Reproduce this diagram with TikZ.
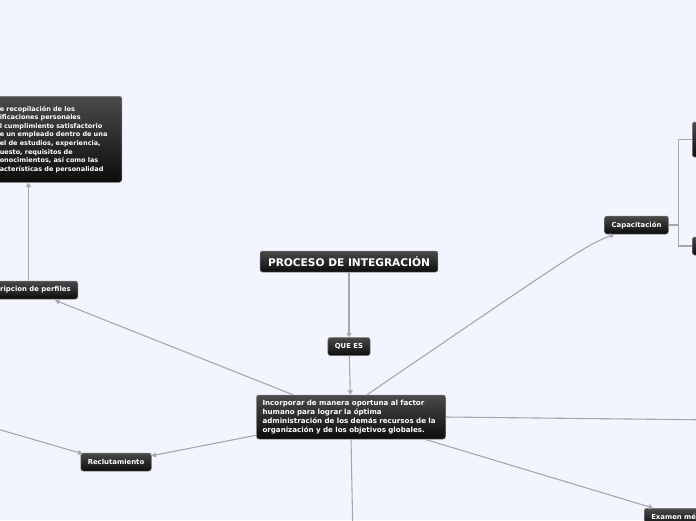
\documentclass[tikz,border=0pt]{standalone}
\usepackage{fontspec}
\setsansfont{DejaVu Sans}
\usepackage{tikz}
\usetikzlibrary{arrows.meta, positioning, calc}
\definecolor{mybg}{RGB}{242,245,255}
\definecolor{mytop}{RGB}{74,74,74}
\definecolor{mybot}{RGB}{12,12,12}
\definecolor{myline}{RGB}{168,168,172}
\definecolor{myedge}{RGB}{120,120,120}
\tikzset{
  line/.style={draw=myline, line width=1.1pt},
  arrow/.style={draw=myline, line width=1.1pt, -{Triangle[length=4.5pt,width=5pt]}},
  block/.style={draw=myedge, line width=0.5pt, top color=mytop, bottom color=mybot, rectangle, rounded corners=2.5pt, text=white, font=\sffamily\bfseries\fontsize{6.9}{8.5}\selectfont, minimum height=18pt, inner xsep=7pt, inner ysep=2pt},
  tblock/.style={block, align=left, inner xsep=6pt}
}
\begin{document}
\begin{tikzpicture}[x=1pt, y=-1pt]
  \fill[mybg] (0,0) rectangle (696,520);
  \useasboundingbox (0,0) rectangle (696,520);
  \clip (0,0) rectangle (696,520);

  \node [block, font=\sffamily\bfseries\fontsize{10.6}{12}\selectfont, minimum height=21pt, inner xsep=8pt] (title) at (349,261.5) {PROCESO DE INTEGRACIÓN};
  \node [block] (quees) at (349,346.5) {QUE ES};
  \node [tblock, font=\sffamily\bfseries\fontsize{7.1}{8.8}\selectfont, text width=177pt, minimum height=44pt] (main) at (351,417) {Incorporar de manera oportuna al factor\\humano para lograr la óptima\\administración de los demás recursos de la\\organización y de los objetivos globales.};
  \node [block, anchor=east] (desc) at (78,290) {ripcion de perfiles};
  \node [tblock, font=\sffamily\bfseries\fontsize{6.5}{8.6}\selectfont, anchor=north east, text width=119pt, minimum height=86pt, inner xsep=3pt] (perfil) at (122,96) {e recopilación de los\\ificaciones personales\\l cumplimiento satisfactorio\\e un empleado dentro de una\\el de estudios, experiencia,\\uesto, requisitos de\\onocimientos, así como las\\acterísticas de personalidad};
  \node [block] (recl) at (116,462) {Reclutamiento};
  \node [block] (capa) at (636.5,225) {Capacitación};
  \node [block, anchor=west, minimum width=30pt, minimum height=35pt] (capa1) at (692,139.5) {};
  \node [block, anchor=west, minimum width=30pt] (capa2) at (692,246) {};
  \node [block, anchor=north west, text width=70pt, align=left, inner xsep=7pt] (exam) at (644,508) {Examen mé};
  \coordinate (izq) at (-30,421);
  \coordinate (der) at (720,420);
  \coordinate (abajo) at (353,540);

  \draw [arrow] (title) -- (quees);
  \draw [arrow] (quees) -- (main);
  \draw [arrow] ($(main.north)+(-58,0)$) -- ($(desc.south east)+(-23,1)$);
  \draw [arrow] (desc.north) ++(-7,0) coordinate (dn) -- (dn |- perfil.south);
  \draw [arrow] ($(main.south west)+(0,-4)$) -- ($(recl.north east)+(0,3)$);
  \draw [arrow] (izq) -- ($(recl.north west)+(2,1)$);
  \draw [arrow] ($(main.north)+(16,0)$) .. controls (585,246) .. ($(capa.south west)+(10,0)$);
  \draw [arrow] ($(main.south east)+(-21,0)$) -- ($(exam.north west)+(9,0)$);
  \draw [line] (main.east) -- (der);
  \draw [line] (main.south) -- (abajo);
  \draw [line] (capa.east) -- ++(10,0) coordinate (cc) |- (capa1.west);
  \draw [line] (cc) |- (capa2.west);
\end{tikzpicture}
\end{document}
